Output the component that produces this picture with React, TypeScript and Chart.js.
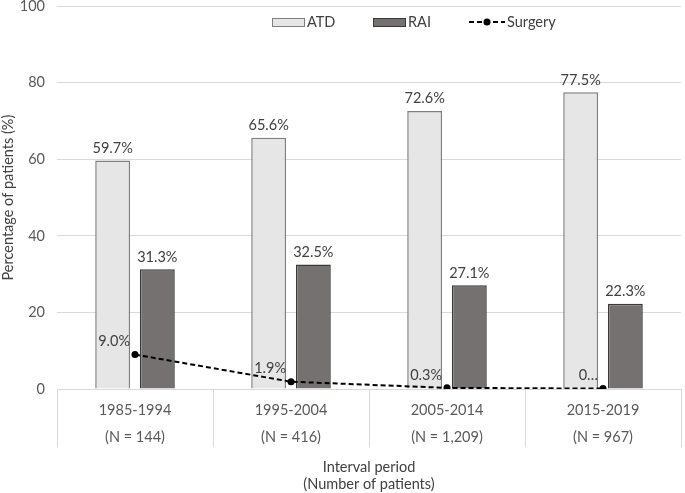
import { useRef, useEffect } from "react";
import { Chart, ChartConfiguration, registerables } from "chart.js";

Chart.register(...registerables);

const periods = ["1985-1994", "1995-2004", "2005-2014", "2015-2019"];
const patientCounts = ["(N = 144)", "(N = 416)", "(N = 1,209)", "(N = 967)"];
const atdValues = [59.7, 65.6, 72.6, 77.5];
const raiValues = [31.3, 32.5, 27.1, 22.3];
const surgeryValues = [9.0, 1.9, 0.3, 0.1];
const surgeryLabels = ["9.0%", "1.9%", "0.3%", "0…"];
const yTicks = [0, 20, 40, 60, 80, 100];

const FONT = "Lato";
const TEXT = "#404040";
const TICK = "#595959";
const GRID = "#d9d9d9";

// draws the percent labels over bars and beside the surgery points
const valueLabels = {
  id: "valueLabels",
  afterDatasetsDraw(chart: Chart) {
    const ctx = chart.ctx;
    ctx.save();
    ctx.font = `14.5px ${FONT}`;
    ctx.fillStyle = TEXT;
    chart.data.datasets.forEach((ds: any, i) => {
      const meta = chart.getDatasetMeta(i);
      meta.data.forEach((el: any, j) => {
        const text = ds.valueLabels[j];
        if (ds.type === "line") {
          ctx.textAlign = "right";
          ctx.textBaseline = "middle";
          ctx.fillText(text, el.x - 5, el.y - 13);
        } else {
          ctx.textAlign = "center";
          ctx.textBaseline = "bottom";
          ctx.fillText(text, el.x, el.y - 5);
        }
      });
    });
    ctx.restore();
  },
};

export default function App() {
  const chartRef = useRef<HTMLCanvasElement>(null);
  const chartInstanceRef = useRef<Chart | null>(null);

  useEffect(() => {
    if (!chartRef.current) return;
    if (chartInstanceRef.current) chartInstanceRef.current.destroy();
    const ctx = chartRef.current.getContext("2d");
    if (!ctx) return;

    const config: ChartConfiguration = {
      type: "bar",
      data: {
        labels: periods.map((p, i) => [p, patientCounts[i]]),
        datasets: [
          {
            type: "line",
            label: "Surgery",
            data: surgeryValues,
            valueLabels: surgeryLabels,
            borderColor: "#000000",
            backgroundColor: "#000000",
            borderWidth: 2,
            borderDash: [5, 3],
            pointRadius: 3.5,
            pointBackgroundColor: "#000000",
            pointBorderWidth: 0,
            tension: 0,
            order: 0,
          } as any,
          {
            type: "bar",
            label: "ATD",
            data: atdValues,
            valueLabels: atdValues.map(v => v.toFixed(1) + "%"),
            backgroundColor: "#e7e6e6",
            borderColor: "#7f7f7f",
            borderWidth: 1.5,
            categoryPercentage: 0.573,
            barPercentage: 0.78,
            order: 1,
          } as any,
          {
            type: "bar",
            label: "RAI",
            data: raiValues,
            valueLabels: raiValues.map(v => v.toFixed(1) + "%"),
            backgroundColor: "#767171",
            borderColor: "#3a3a3a",
            borderWidth: 1.5,
            categoryPercentage: 0.573,
            barPercentage: 0.78,
            order: 1,
          } as any,
        ],
      },
      options: {
        responsive: true,
        maintainAspectRatio: false,
        animation: false,
        layout: { padding: 0 },
        plugins: {
          legend: { display: false },
          tooltip: { enabled: false },
        },
        scales: {
          x: {
            grid: {
              offset: true,
              drawOnChartArea: false,
              drawTicks: true,
              tickLength: 58,
              color: GRID,
            },
            border: { display: true, color: GRID },
            ticks: {
              padding: -50,
              color: TICK,
              autoSkip: false,
              maxRotation: 0,
              font: { family: FONT, size: 14.5, lineHeight: 1.86 },
            },
            title: {
              display: true,
              text: ["Interval period", "(Number of patients)"],
              color: TEXT,
              font: { family: FONT, size: 14.5, lineHeight: 1.18 },
              padding: { top: 0, bottom: 0 },
            },
            afterFit: (s: any) => {
              s.height = 104;
            },
          },
          y: {
            min: 0,
            max: 100,
            afterBuildTicks: (s: any) => {
              s.ticks = yTicks.map(v => ({ value: v }));
            },
            // invisible tick marks keep the labels 12px off the plot without adding top padding
            grid: { color: GRID, drawTicks: true, tickLength: 12, tickColor: "rgba(0,0,0,0)" },
            border: { display: false },
            ticks: {
              padding: 0,
              color: TICK,
              font: { family: FONT, size: 14.5, lineHeight: 0.85 },
            },
            title: {
              display: true,
              text: "Percentage of patients (%)",
              color: TEXT,
              font: { family: FONT, size: 14.5, lineHeight: 1.2 },
              padding: 0,
            },
            afterFit: (s: any) => {
              s.width = 57;
            },
          },
        },
      },
      plugins: [valueLabels],
    };

    chartInstanceRef.current = new Chart(ctx, config);

    return () => {
      if (chartInstanceRef.current) {
        chartInstanceRef.current.destroy();
        chartInstanceRef.current = null;
      }
    };
  }, []);

  const legendText = { position: "absolute" as const, top: 13, fontFamily: FONT, fontSize: 14.5, color: TEXT, lineHeight: "18px" };

  return (
    <div style={{ position: "fixed", left: 0, top: 0, width: 685, height: 493, background: "#fff" }}>
      <canvas ref={chartRef}></canvas>
      <div style={{ position: "absolute", left: 272, top: 18, width: 31, height: 7, background: "#e7e6e6", border: "1px solid #7f7f7f" }} />
      <span style={{ ...legendText, left: 307 }}>ATD</span>
      <div style={{ position: "absolute", left: 373, top: 18, width: 31, height: 7, background: "#767171", border: "1px solid #3a3a3a" }} />
      <span style={{ ...legendText, left: 408 }}>RAI</span>
      <svg style={{ position: "absolute", left: 469, top: 16 }} width={36} height={12}>
        <line x1={0} y1={6} x2={36} y2={6} stroke="#000" strokeWidth={2} strokeDasharray="5 3" />
        <circle cx={18} cy={6} r={3.5} fill="#000" />
      </svg>
      <span style={{ ...legendText, left: 507 }}>Surgery</span>
    </div>
  );
}
